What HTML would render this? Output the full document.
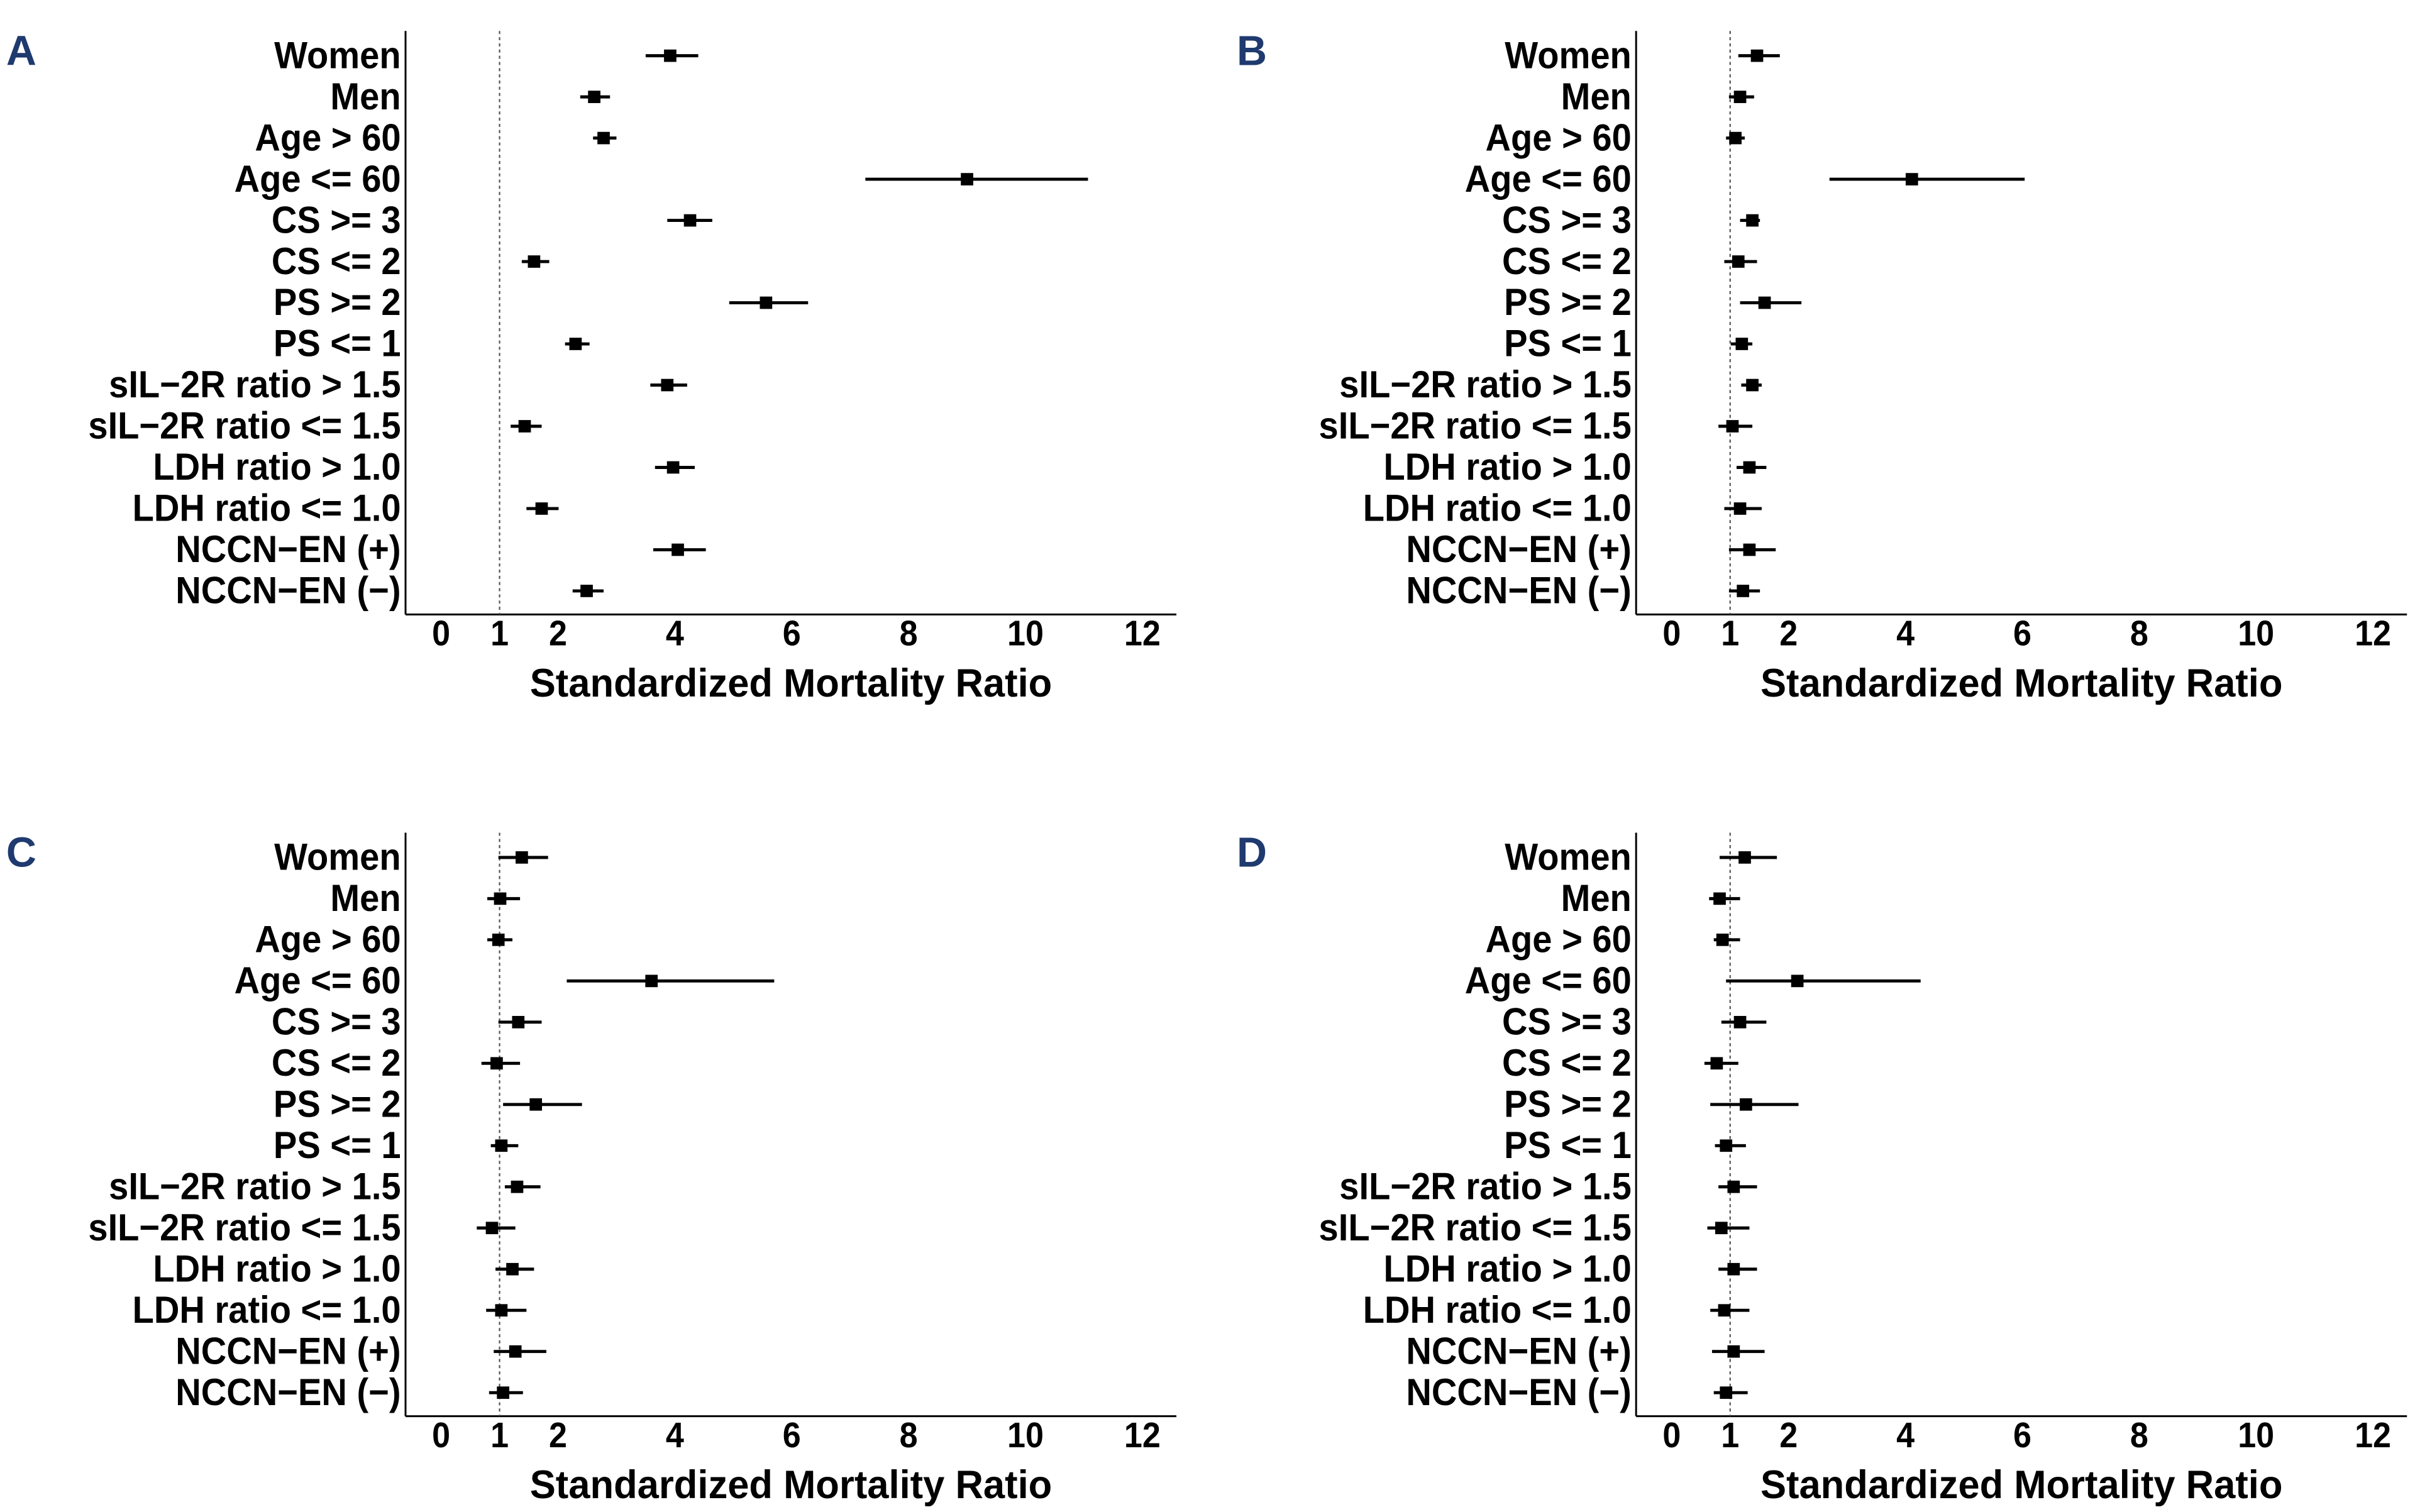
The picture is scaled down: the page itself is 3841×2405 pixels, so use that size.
<!DOCTYPE html>
<html><head><meta charset="utf-8">
<style>
html,body{margin:0;padding:0;background:#fff;}
svg{display:block;}
text{font-family:"Liberation Sans",sans-serif;font-weight:bold;fill:#000;}
</style></head>
<body>
<svg id="fig" width="3841" height="2405" viewBox="0 0 1560.2 976.9" preserveAspectRatio="none" xmlns="http://www.w3.org/2000/svg"></svg>
<script>
const categories = ["Women","Men","Age > 60","Age <= 60","CS >= 3","CS <= 2","PS >= 2","PS <= 1","sIL\u22122R ratio > 1.5","sIL\u22122R ratio <= 1.5","LDH ratio > 1.0","LDH ratio <= 1.0","NCCN\u2212EN (+)","NCCN\u2212EN (\u2212)"];
const xTicks = [0,1,2,4,6,8,10,12];
const panelLetters = ["A","B","C","D"];
const smrA = [3.92,2.62,2.78,9.0,4.26,1.59,5.56,2.3,3.87,1.43,3.97,1.72,4.05,2.49];
const lowA = [3.5,2.38,2.6,7.26,3.87,1.38,4.93,2.12,3.58,1.19,3.66,1.46,3.63,2.25];
const highA = [4.4,2.89,3.0,11.07,4.64,1.85,6.28,2.54,4.21,1.72,4.34,2.01,4.53,2.78];
const smrB = [1.46,1.17,1.09,4.11,1.38,1.14,1.59,1.2,1.38,1.04,1.33,1.17,1.33,1.22];
const lowB = [1.14,0.98,0.93,2.7,1.17,0.9,1.17,1.01,1.19,0.8,1.11,0.9,0.98,0.98];
const highB = [1.85,1.41,1.25,6.04,1.51,1.46,2.22,1.38,1.54,1.38,1.62,1.54,1.78,1.51];
const smrC = [1.38,1.01,0.98,3.6,1.32,0.95,1.62,1.03,1.3,0.87,1.22,1.03,1.27,1.06];
const lowC = [0.98,0.79,0.79,2.15,0.98,0.69,1.06,0.85,1.09,0.61,0.93,0.77,0.9,0.82];
const highC = [1.83,1.35,1.22,5.7,1.72,1.35,2.41,1.32,1.7,1.27,1.59,1.46,1.8,1.4];
const smrD = [1.25,0.82,0.87,2.15,1.17,0.77,1.27,0.93,1.06,0.85,1.06,0.9,1.06,0.93];
const lowD = [0.82,0.64,0.72,0.93,0.85,0.56,0.66,0.74,0.8,0.61,0.8,0.66,0.69,0.72];
const highD = [1.8,1.17,1.17,4.26,1.62,1.14,2.17,1.27,1.46,1.33,1.46,1.33,1.59,1.3];

const NS="http://www.w3.org/2000/svg";
const svg=document.getElementById('fig');
function mk(tag,attrs,parent){const e=document.createElementNS(NS,tag);for(const k in attrs)e.setAttribute(k,attrs[k]);(parent||svg).appendChild(e);return e;}

const panels=[
 {ox:0,oy:0,smr:smrA,low:lowA,high:highA},
 {ox:795,oy:0,smr:smrB,low:lowB,high:highB},
 {ox:0,oy:518,smr:smrC,low:lowC,high:highC},
 {ox:795,oy:518,smr:smrD,low:lowD,high:highD}
];
panels.forEach((p,pi)=>{
  const g=mk('g',{transform:`translate(${p.ox},${p.oy})`});
  
  
  const xs=v=>285+v*37.75;
  const ys=i=>36+i*26.6;
  const lt=mk('text',{x:4,y:42,'font-size':27,style:'fill:#1f3a6e'},g);
  lt.textContent=panelLetters[pi];
  
  
  const ya=mk('line',{x1:262,y1:20,x2:262,y2:397,stroke:'#000','stroke-width':1.2},g);
  
  
  const xa=mk('line',{x1:262,y1:397,x2:760,y2:397,stroke:'#000','stroke-width':1.2},g);
  
  
  const ref=mk('line',{x1:xs(1),y1:20,x2:xs(1),y2:397,stroke:'#555','stroke-width':0.9,'stroke-dasharray':'2,2'},g);
  
  
  xTicks.forEach(t=>{
    const tx=mk('text',{transform:`translate(${xs(t)},417) scale(0.92,1)`,'font-size':23,'text-anchor':'middle'},g);
    tx.textContent=t;
    
    
  });
  const tt=mk('text',{transform:`translate(511,450) scale(0.98,1)`,'font-size':25.5,'text-anchor':'middle'},g);
  tt.textContent='Standardized Mortality Ratio';
  
  
  categories.forEach((c,i)=>{
    const y=ys(i);
    const lb=mk('text',{transform:`translate(259,${y+8}) scale(0.93,1)`,'font-size':24.5,'text-anchor':'end'},g);
    lb.textContent=c;
    
    
    const ci=mk('line',{x1:xs(p.low[i]),y1:y,x2:xs(p.high[i]),y2:y,stroke:'#000','stroke-width':2},g);
    
    
    const pt=mk('rect',{x:xs(p.smr[i])-4,y:y-4,width:8,height:8,fill:'#000'},g);
    
    
  });
});
</script>
</body></html>
